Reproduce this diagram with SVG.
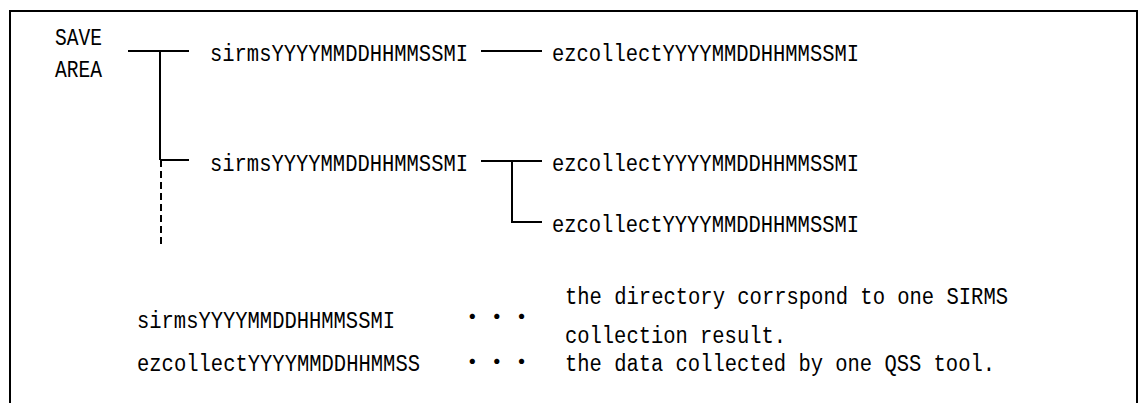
<svg xmlns="http://www.w3.org/2000/svg" width="1144" height="403" viewBox="0 0 1144 403">
<style>
.t{font-family:"Liberation Mono","DejaVu Sans Mono",monospace;font-size:23.5px;fill:#000}
.d{font-family:"Noto Sans CJK JP","Noto Sans CJK SC",sans-serif;font-size:24.6px;fill:#000}
.ln{stroke:#000;stroke-width:2;fill:none}
.dash{stroke:#000;stroke-width:2;fill:none;stroke-dasharray:7,4}
</style>
<rect width="1144" height="403" fill="#fff"/>
<path class="ln" d="M10,420 V11 H1137 V420"/>
<g id="save-area">
<text class="t" x="55" y="45" textLength="47" lengthAdjust="spacingAndGlyphs">SAVE</text>
<text class="t" x="55" y="77" textLength="47" lengthAdjust="spacingAndGlyphs">AREA</text>
</g>
<g id="sirms1"><text class="t" x="210" y="61" textLength="258" lengthAdjust="spacingAndGlyphs">sirmsYYYYMMDDHHMMSSMI</text></g>
<g id="sirms2"><text class="t" x="210" y="171" textLength="258" lengthAdjust="spacingAndGlyphs">sirmsYYYYMMDDHHMMSSMI</text></g>
<g id="ez1"><text class="t" x="552" y="61" textLength="307" lengthAdjust="spacingAndGlyphs">ezcollectYYYYMMDDHHMMSSMI</text></g>
<g id="ez2"><text class="t" x="552" y="171" textLength="307" lengthAdjust="spacingAndGlyphs">ezcollectYYYYMMDDHHMMSSMI</text></g>
<g id="ez3"><text class="t" x="552" y="232" textLength="307" lengthAdjust="spacingAndGlyphs">ezcollectYYYYMMDDHHMMSSMI</text></g>
<g id="connectors">
<line class="ln" x1="128" y1="51" x2="189" y2="51"/>
<line class="ln" x1="160" y1="51" x2="160" y2="160"/>
<line class="dash" x1="161" y1="160" x2="161" y2="246"/>
<line class="ln" x1="160" y1="160" x2="189" y2="160"/>
<line class="ln" x1="481" y1="51" x2="542" y2="51"/>
<line class="ln" x1="481" y1="161" x2="542" y2="161"/>
<path class="ln" d="M512,161 V222 H542"/>
</g>
<g id="legend">
<text class="t" x="137" y="328" textLength="258" lengthAdjust="spacingAndGlyphs">sirmsYYYYMMDDHHMMSSMI</text>
<text class="t" x="137" y="371" textLength="283" lengthAdjust="spacingAndGlyphs">ezcollectYYYYMMDDHHMMSS</text>
<text class="d" x="460" y="326">・・・</text>
<text class="d" x="460" y="371">・・・</text>
<text class="t" x="565" y="304" textLength="443" lengthAdjust="spacingAndGlyphs">the directory corrspond to one SIRMS</text>
<text class="t" x="565" y="343" textLength="221" lengthAdjust="spacingAndGlyphs">collection result.</text>
<text class="t" x="565" y="371" textLength="430" lengthAdjust="spacingAndGlyphs">the data collected by one QSS tool.</text>
</g>
</svg>
